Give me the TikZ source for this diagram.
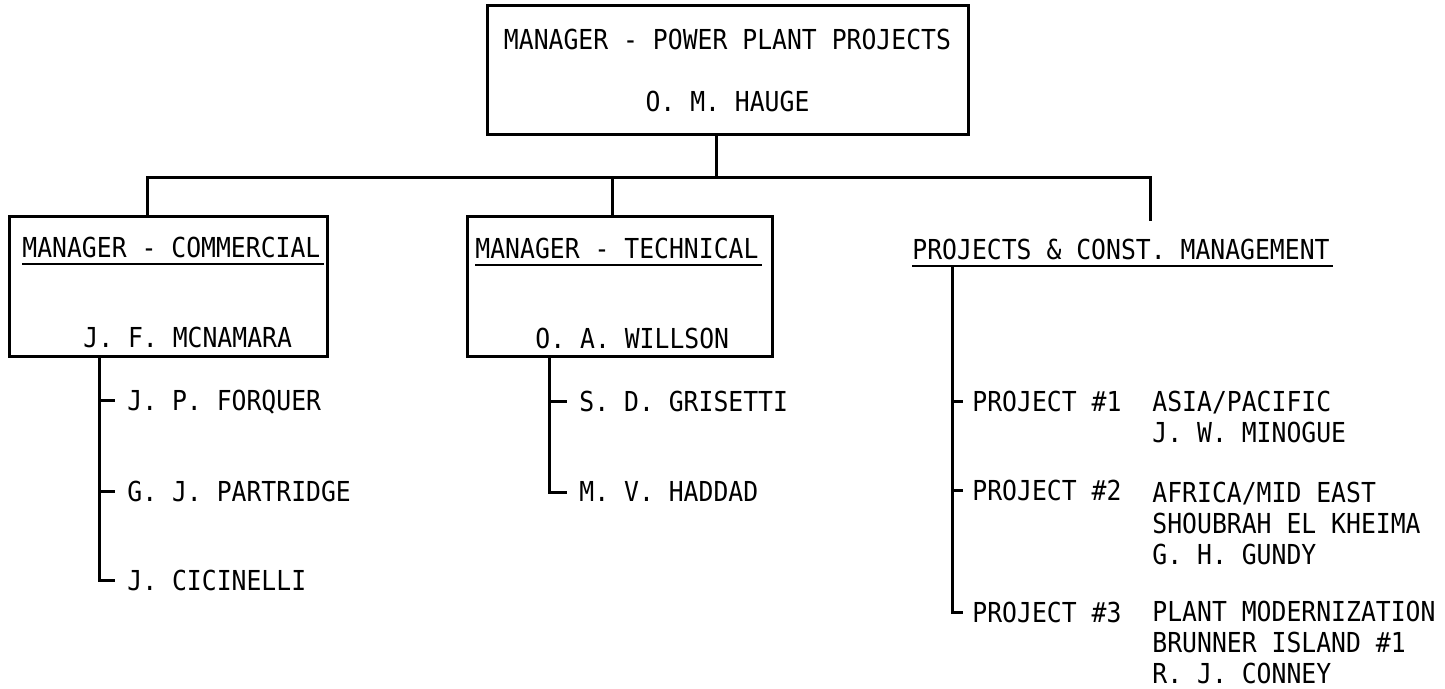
\documentclass[tikz,border=0pt]{standalone}
\usepackage{fontspec}
\newfontfamily\chartfont[FakeStretch=0.9]{DejaVu Sans Mono}
\usepackage{tikz}
\tikzset{
    %Define style for the boxes
    topbox/.style={
        rectangle,
        draw, line width=1.5pt,
        inner sep=0pt,
        minimum width=240.5pt,
        minimum height=64.5pt,
        align=center},
    mgrbox/.style={
        rectangle,
        draw, line width=1.5pt,
        inner sep=0pt,
        minimum height=70pt},
    % Define text styles
    txt/.style={inner sep=0pt, anchor=base west},
    detail/.style={txt, align=left},
    item/.style={
        inner xsep=6pt, inner ysep=0pt,
        text height=10pt, text depth=0pt,
        anchor=west},
    projitem/.style={item, inner xsep=4.5pt},
    % Define line styles
    wire/.style={line width=1.5pt},
    uline/.style={line width=1pt}
}
\begin{document}
\begin{tikzpicture}[x=0.5pt, y=-0.5pt,
    font=\chartfont\fontsize{13.75}{15.5}\selectfont]
    \useasboundingbox (0,0) rectangle (1445,689);
    % boxes
    \node[topbox] (pm) at (727.5,70.5) {MANAGER - POWER PLANT PROJECTS\\[15.5pt]O. M. HAUGE};
    \node[mgrbox, minimum width=159pt] (com) at (168,287) {};
    \node[mgrbox, minimum width=152.5pt] (tec) at (619.5,287) {};
    % titles and names
    \node[txt] (comT) at (22,258) {MANAGER - COMMERCIAL};
    \node[txt] (comN) at (83,348) {J. F. MCNAMARA};
    \node[txt] (tecT) at (475,259) {MANAGER - TECHNICAL};
    \node[txt] (tecN) at (535,349) {O. A. WILLSON};
    \node[txt] (prjT) at (912,260) {PROJECTS \& CONST. MANAGEMENT};
    \foreach \n in {comT,tecT,prjT}
        \draw[uline] ([yshift=-3.25pt]\n.base west) -- ([yshift=-3.25pt,xshift=1.5pt]\n.base east);
    % staff
    \node[item] (cs1) at (115,401) {J. P. FORQUER};
    \node[item] (cs2) at (115,491) {G. J. PARTRIDGE};
    \node[item] (cs3) at (115,580) {J. CICINELLI};
    \node[item] (ts1) at (567,402) {S. D. GRISETTI};
    \node[item] (ts2) at (567,492) {M. V. HADDAD};
    % projects (detail nodes sit on the baseline of their last line)
    \node[projitem] (pr1) at (963,402) {PROJECT \#1};
    \node[projitem] (pr2) at (963,490) {PROJECT \#2};
    \node[projitem] (pr3) at (963,612) {PROJECT \#3};
    \node[detail] (pd1) at (1152,443) {ASIA/PACIFIC\\J. W. MINOGUE};
    \node[detail] (pd2) at (1152,564) {AFRICA/MID EAST\\SHOUBRAH EL KHEIMA\\G. H. GUNDY};
    \node[detail] (pd3) at (1152,683) {PLANT MODERNIZATION\\BRUNNER ISLAND \#1\\R. J. CONNEY};
    % junctions
    \coordinate (jm) at (716,178);
    \coordinate (jc) at (147,178);
    \coordinate (jt) at (612,178);
    \coordinate (jp) at (1150,178);
    \coordinate (pend) at (1150,221);
    \coordinate (cx) at (99,357);
    \coordinate (tx) at (549,357);
    \coordinate (px) at (952,267);
    % connectors
    \draw[wire] (jm |- pm.south) -- (jm);
    \draw[wire] (jc |- com.north) -- (jc) -- (jp) -- (pend);
    \draw[wire] (jt) -- (jt |- tec.north);
    \draw[wire] (cx) |- (cs3.west);
    \foreach \s in {cs1,cs2}
        \draw[wire] (cx |- \s.west) -- (\s.west);
    \draw[wire] (tx) |- (ts2.west);
    \draw[wire] (tx |- ts1.west) -- (ts1.west);
    \draw[wire] (px) |- (pr3.west);
    \foreach \s in {pr1,pr2}
        \draw[wire] (px |- \s.west) -- (\s.west);
\end{tikzpicture}
\end{document}
